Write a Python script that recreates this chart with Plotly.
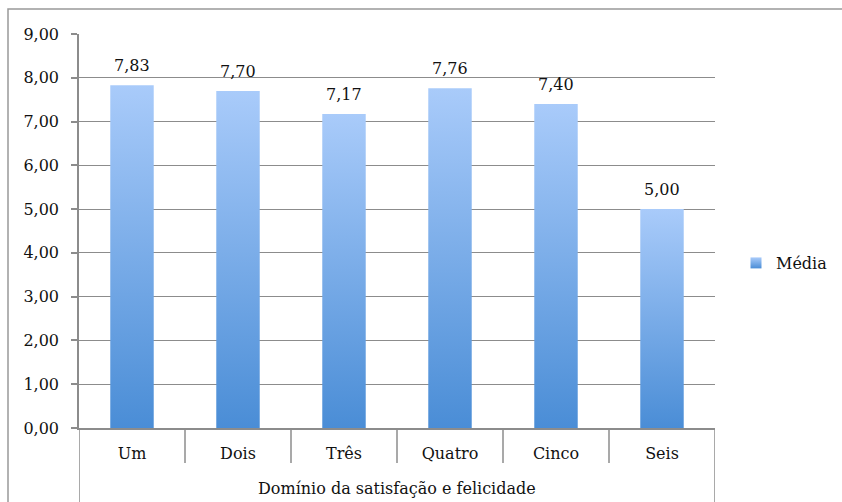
import plotly.graph_objects as go

# Mean score per satisfaction/happiness domain
categories = ["Um", "Dois", "Três", "Quatro", "Cinco", "Seis"]
media = [7.83, 7.70, 7.17, 7.76, 7.40, 5.00]
group_label = "Domínio da satisfação e felicidade"
series_name = "Média"

FONT = "DejaVu Serif"
FS = 16
TXT = "#111111"
GRID = "#8c8c8c"
BAR_DARK = "#4a8dd6"
BAR_LIGHT = "#a9cbfa"
HALF_W = 0.205  # half bar width, in category units

W, H = 842, 502
ML, MR, MT, MB = 79, 127, 34, 74
plot_w = W - ML - MR
plot_h = H - MT - MB

fig = go.Figure()

# Bars drawn as filled polygons so each can carry its own vertical gradient
for i, (cat, v) in enumerate(zip(categories, media)):
    c = i + 0.5
    fig.add_trace(go.Scatter(
        x=[c - HALF_W, c - HALF_W, c + HALF_W, c + HALF_W, c - HALF_W],
        y=[0, v, v, 0, 0],
        mode="lines",
        fill="toself",
        fillgradient=dict(type="vertical",
                          colorscale=[[0, BAR_DARK], [1, BAR_LIGHT]]),
        line=dict(width=0),
        showlegend=False,
        hoverinfo="skip",
    ))

# Legend entry: small gradient square
fig.add_trace(go.Scatter(
    x=[None], y=[None],
    mode="markers",
    name=series_name,
    marker=dict(symbol="square", size=11, color=BAR_LIGHT,
                gradient=dict(type="vertical", color=BAR_DARK),
                line=dict(width=0)),
    showlegend=True,
))

# Value labels above the bars
annotations = []
for i, v in enumerate(media):
    annotations.append(dict(
        x=i + 0.5, y=v, xref="x", yref="y",
        text=f"{v:.2f}".replace(".", ","),
        showarrow=False, xanchor="center", yanchor="bottom", yshift=8,
        font=dict(family=FONT, size=FS, color=TXT)))

annotations.append(dict(text=group_label, xref="x", yref="paper",
                        x=len(categories) / 2,
                        y=-(488 - (MT + plot_h)) / plot_h,
                        xanchor="center", yanchor="middle", showarrow=False,
                        font=dict(family=FONT, size=FS, color=TXT)))

shapes = []
# Category boundary lines below the axis
n = len(categories)
for i in range(n + 1):
    y_end = -MB / plot_h if i in (0, n) else -35 / plot_h
    shapes.append(dict(type="line", xref="x", yref="paper",
                       x0=i, x1=i, y0=0, y1=y_end,
                       line=dict(color=GRID, width=1.5)))
# Outer chart frame
shapes.append(dict(type="rect", xref="paper", yref="paper",
                   x0=(8 - ML) / plot_w, x1=(W + 20 - ML) / plot_w,
                   y0=-(MB + 20) / plot_h, y1=(plot_h + MT - 9) / plot_h,
                   line=dict(color="#999999", width=1.5),
                   fillcolor="rgba(0,0,0,0)", layer="below"))

fig.update_layout(
    width=W, height=H,
    margin=dict(l=ML, r=MR, t=MT, b=MB, pad=0, autoexpand=False),
    paper_bgcolor="white",
    plot_bgcolor="white",
    separators=",.",
    font=dict(family=FONT, size=FS, color=TXT),
    shapes=shapes,
    annotations=annotations,
    showlegend=True,
    legend=dict(x=(736 - ML) / plot_w, y=(MT + plot_h - 263) / plot_h,
                xanchor="left", yanchor="middle",
                font=dict(family=FONT, size=FS, color=TXT),
                bgcolor="rgba(0,0,0,0)", itemwidth=30),
)

fig.update_xaxes(
    range=[0, n],
    tickvals=[i + 0.5 for i in range(n)],
    ticktext=categories,
    ticks="",
    showgrid=False,
    zeroline=False,
    showline=True, linecolor=GRID, linewidth=1.5,
    ticklabelstandoff=10,
    tickfont=dict(family=FONT, size=FS, color=TXT),
)
fig.update_yaxes(
    range=[0, 9],
    dtick=1,
    tickformat=".2f",
    ticks="outside", ticklen=6, tickcolor=GRID, tickwidth=1.5,
    showgrid=True, gridcolor=GRID, gridwidth=1,
    zeroline=False,
    showline=True, linecolor=GRID, linewidth=1.5,
    ticklabelstandoff=9,
    tickfont=dict(family=FONT, size=FS, color=TXT),
)

fig.write_html("out.html")
